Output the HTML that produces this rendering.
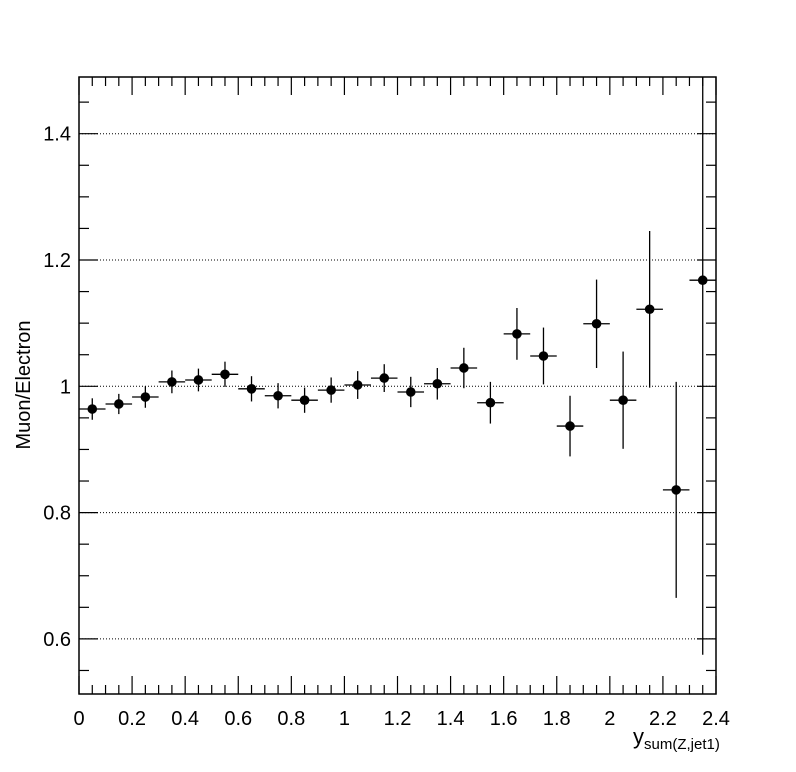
<!DOCTYPE html>
<html><head><meta charset="utf-8"><style>
html,body{margin:0;padding:0;background:#fff;}
svg{display:block;font-family:"Liberation Sans",Arial,sans-serif;}
</style></head><body>
<svg id="chart" width="796" height="772" viewBox="0 0 796 772">
<rect x="0" y="0" width="796" height="772" fill="#fff"/>
<g id="grid"></g>
<g id="ticks"></g>
<g id="marks"></g>
<rect x="79" y="77" width="637" height="617" fill="none" stroke="#000" stroke-width="1.5"/>
<g id="labels" font-size="20" fill="#000"></g>
<text x="30" y="385" font-size="20" text-anchor="middle" transform="rotate(-90 30 385)">Muon/Electron</text>
<text x="633" y="744" font-size="22">y<tspan font-size="15" dy="5">sum(Z,jet1)</tspan></text>
</svg>
<script>
const xCenters=[0.05,0.15,0.25,0.35,0.45,0.55,0.65,0.75,0.85,0.95,1.05,1.15,1.25,1.35,1.45,1.55,1.65,1.75,1.85,1.95,2.05,2.15,2.25,2.35];
const ratioValues=[0.964,0.972,0.983,1.007,1.010,1.019,0.996,0.985,0.978,0.994,1.002,1.013,0.991,1.004,1.029,0.974,1.083,1.048,0.937,1.099,0.978,1.122,0.836,1.168];
const ratioErrors=[0.017,0.016,0.017,0.018,0.018,0.02,0.02,0.02,0.02,0.02,0.022,0.022,0.024,0.025,0.032,0.033,0.041,0.045,0.048,0.07,0.077,0.124,0.171,0.593];
const xTickLabels=["0","0.2","0.4","0.6","0.8","1","1.2","1.4","1.6","1.8","2","2.2","2.4"];
const yTickLabels=["0.6","0.8","1","1.2","1.4"];
const binHalfWidth=0.05;
const L=79,R=716,T=77,B=694;
const X=v=>L+v*(R-L)/2.4;
const Y=v=>386.3-(v-1)*631.5;
const NS="http://www.w3.org/2000/svg";
function mk(tag,parent,attrs){const e=document.createElementNS(NS,tag);for(const k in attrs)e.setAttribute(k,attrs[k]);parent.appendChild(e);return e;}
const grid=document.getElementById('grid'),ticks=document.getElementById('ticks'),marks=document.getElementById('marks'),labels=document.getElementById('labels');
yTickLabels.forEach(s=>{const v=parseFloat(s),y=Y(v);
 const g=mk('line',grid,{x1:L,x2:R,y1:y,y2:y,stroke:'#000','stroke-width':1,'stroke-dasharray':'1,2'});
 
 
 const t=mk('text',labels,{x:L-8,y:y+7,'text-anchor':'end'});t.textContent=s;
 
 
});
xTickLabels.forEach(s=>{const v=parseFloat(s);
 const t=mk('text',labels,{x:X(v),y:725,'text-anchor':'middle'});t.textContent=s;
 
 
});
for(let i=0;i<=48;i++){const v=i*0.05,x=X(v),len=(i%4===0)?18:9;
 mk('line',ticks,{x1:x,x2:x,y1:B,y2:B-len,stroke:'#000','stroke-width':1.2});
 mk('line',ticks,{x1:x,x2:x,y1:T,y2:T+len,stroke:'#000','stroke-width':1.2});}
for(let i=0;i<=20;i++){const v=0.5+i*0.05,y=Y(v);if(y<T||y>B)continue;const len=(Math.round(v*100)%20===0)?19:10;
 mk('line',ticks,{x1:L,x2:L+len,y1:y,y2:y,stroke:'#000','stroke-width':1.2});
 mk('line',ticks,{x1:R,x2:R-len,y1:y,y2:y,stroke:'#000','stroke-width':1.2});}
xCenters.forEach((xc,i)=>{const v=ratioValues[i],e=ratioErrors[i];
 const g=mk('g',marks,{});
 
 
 const y1=Math.max(T,Y(v+e)),y2=Math.min(B,Y(v-e));
 mk('line',g,{x1:X(xc),x2:X(xc),y1:y1,y2:y2,stroke:'#000','stroke-width':1.3});
 mk('line',g,{x1:X(xc-binHalfWidth),x2:Math.min(R,X(xc+binHalfWidth)),y1:Y(v),y2:Y(v),stroke:'#000','stroke-width':1.3});
 mk('circle',g,{cx:X(xc),cy:Y(v),r:4.8,fill:'#000'});
});
</script>
</body></html>
